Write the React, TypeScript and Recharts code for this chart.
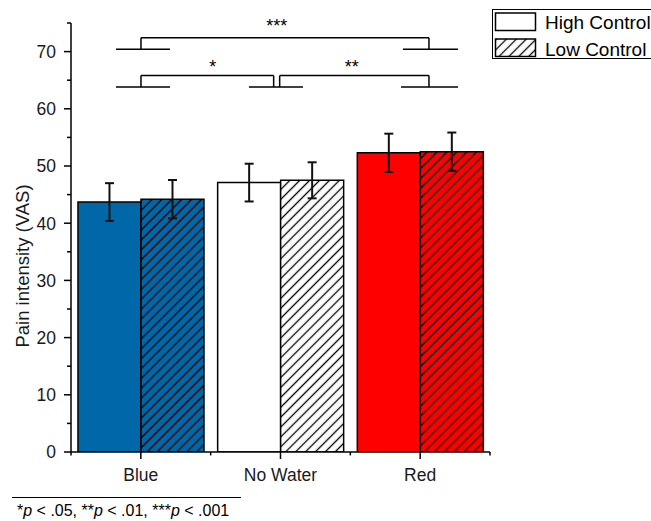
import React from 'react';
import {
  BarChart,
  Bar,
  XAxis,
  YAxis,
  ErrorBar,
  Cell,
  ReferenceLine,
  ReferenceDot,
  Legend,
} from 'recharts';

// ---- data ----
const categories = ['Blue', 'No Water', 'Red'];
const seriesNames = ['High Control', 'Low Control'];
const highControl = [43.7, 47.1, 52.3];
const lowControl = [44.2, 47.5, 52.5];
const highControlErr = [3.3, 3.3, 3.35];
const lowControlErr = [3.35, 3.15, 3.35];
const categoryColors = ['#0068A8', '#FFFFFF', '#FF0000'];
const yTicks = [0, 5, 10, 15, 20, 25, 30, 35, 40, 45, 50, 55, 60, 65, 70, 75];
const categoryBounds = [0, 1, 2, 3];
// helper axis (category units) spanning the three categories
const bracketAxisSpan = [0, 1.5, 3];

// significance brackets (in category units on x, pain units on y)
const brackets = [
  { x1: 0.501, x2: 2.563, y: 72.4, foot: 70.4 },
  { x1: 0.501, x2: 1.451, y: 65.8, foot: 63.8 },
  { x1: 1.494, x2: 2.563, y: 65.8, foot: 63.8 },
];
const bracketFeet = [
  { x1: 0.322, x2: 0.709, y: 70.4 },
  { x1: 2.377, x2: 2.771, y: 70.4 },
  { x1: 0.322, x2: 0.709, y: 63.8 },
  { x1: 1.274, x2: 1.661, y: 63.8 },
  { x1: 2.363, x2: 2.771, y: 63.8 },
];
const stars = [
  { x: 1.474, y: 73.5, text: '***' },
  { x: 1.015, y: 66.2, text: '*' },
  { x: 2.01, y: 66.2, text: '**' },
];

const data = categories.map((c, i) => ({
  category: c,
  high: highControl[i],
  low: lowControl[i],
  highErr: highControlErr[i],
  lowErr: lowControlErr[i],
  span: bracketAxisSpan[i],
}));

const FONT = '"Liberation Sans", Arial, Helvetica, sans-serif';

const YTick = (props: any) => {
  const { x, y, payload } = props;
  const v = payload.value;
  const major = v % 10 === 0;
  return (
    <g>
      <line x1={x - (major ? 7 : 4)} x2={x} y1={y} y2={y} stroke="#000" strokeWidth={1.5} />
      {major && (
        <text x={x - 15} y={y} dy="0.36em" textAnchor="end" fontSize={17.5} fontFamily={FONT} fill="#1a1a1a">
          {v}
        </text>
      )}
    </g>
  );
};

const XTick = (props: any) => {
  const { x, y, payload } = props;
  return (
    <g>
      <line x1={x} x2={x} y1={y} y2={y + 7} stroke="#000" strokeWidth={1.5} />
      <text x={x} y={y + 29} textAnchor="middle" fontSize={17.5} fontFamily={FONT} fill="#1a1a1a">
        {payload.value}
      </text>
    </g>
  );
};

const HatchPattern = ({ id, color }: { id: string; color: string }) => (
  <pattern id={id} patternUnits="userSpaceOnUse" width={7} height={7} patternTransform="rotate(45)">
    <rect width={7} height={7} fill={color} />
    <line x1={3.5} y1={0} x2={3.5} y2={7} stroke="#000" strokeWidth={1.3} />
  </pattern>
);

const LegendContent = (props: any) => {
  const payload = props.payload && props.payload.length ? props.payload : seriesNames.map((n) => ({ value: n }));
  return (
    <svg width={170} height={52} style={{ display: 'block', overflow: 'visible' }}>
      <defs>
        <HatchPattern id="legend-hatch" color="#FFFFFF" />
      </defs>
      <rect x={0.5} y={0.5} width={180} height={49} fill="#fff" stroke="#000" strokeWidth={1} />
      {payload.map((p: any, i: number) => (
        <g key={i}>
          <rect
            x={3.5}
            y={4 + i * 26}
            width={40}
            height={17.5}
            fill={i === 0 ? '#FFFFFF' : 'url(#legend-hatch)'}
            stroke="#000"
            strokeWidth={1.5}
          />
          <text x={53} y={19.5 + i * 27.5} fontSize={19} fontFamily={FONT} fill="#000">
            {p.value}
          </text>
        </g>
      ))}
    </svg>
  );
};

export default function App() {
  return (
    <div style={{ position: 'absolute', left: 0, top: 0, width: 651, height: 521, background: '#fff', fontFamily: FONT }}>
      <BarChart
        width={651}
        height={521}
        data={data}
        margin={{ top: 23, right: 161, bottom: 39, left: 11 }}
        barCategoryGap="5%"
        barGap={0}
      >
        <defs>
          {categoryColors.map((c, i) => (
            <HatchPattern key={i} id={`hatch-${i}`} color={c} />
          ))}
        </defs>
        <XAxis
          xAxisId="cat"
          dataKey="category"
          tick={<XTick />}
          tickSize={0}
          tickMargin={0}
          tickLine={false}
          axisLine={{ stroke: '#000', strokeWidth: 1.5 }}
          height={30}
          interval={0}
        />
        <XAxis
          xAxisId="br"
          dataKey="span"
          type="number"
          domain={[0, 3]}
          orientation="top"
          height={0}
          hide
          allowDataOverflow
        />
        <YAxis
          domain={[0, 75]}
          ticks={yTicks}
          interval={0}
          tick={<YTick />}
          tickSize={0}
          tickMargin={0}
          tickLine={false}
          axisLine={{ stroke: '#000', strokeWidth: 1.5 }}
          width={60}
          allowDataOverflow
        />
        <Legend
          layout="vertical"
          align="center"
          verticalAlign="middle"
          wrapperStyle={{ left: 492, top: 9, width: 170, height: 52, right: 'auto', bottom: 'auto' }}
          content={<LegendContent />}
        />
        <Bar xAxisId="cat" dataKey="high" name={seriesNames[0]} isAnimationActive={false} stroke="#000" strokeWidth={1.5}>
          {data.map((d, i) => (
            <Cell key={d.category} fill={categoryColors[i]} />
          ))}
          <ErrorBar dataKey="highErr" width={4.5} stroke="#111" strokeWidth={2} direction="y" />
        </Bar>
        <Bar xAxisId="cat" dataKey="low" name={seriesNames[1]} isAnimationActive={false} stroke="#000" strokeWidth={1.5}>
          {data.map((d, i) => (
            <Cell key={d.category} fill={`url(#hatch-${i})`} />
          ))}
          <ErrorBar dataKey="lowErr" width={4.5} stroke="#111" strokeWidth={2} direction="y" />
        </Bar>
        {categoryBounds.map((b) => (
          <ReferenceLine
            key={`mt-${b}`}
            xAxisId="br"
            segment={[{ x: b, y: 0 }, { x: b, y: -0.6 }]}
            stroke="#000"
            strokeWidth={1.5}
            ifOverflow="visible"
          />
        ))}
        {brackets.map((b, i) => (
          <ReferenceLine
            key={`bh-${i}`}
            xAxisId="br"
            segment={[{ x: b.x1, y: b.y }, { x: b.x2, y: b.y }]}
            stroke="#000"
            strokeWidth={1.5}
            ifOverflow="visible"
          />
        ))}
        {brackets.map((b, i) => (
          <ReferenceLine
            key={`bl-${i}`}
            xAxisId="br"
            segment={[{ x: b.x1, y: b.y }, { x: b.x1, y: b.foot }]}
            stroke="#000"
            strokeWidth={1.5}
            ifOverflow="visible"
          />
        ))}
        {brackets.map((b, i) => (
          <ReferenceLine
            key={`br-${i}`}
            xAxisId="br"
            segment={[{ x: b.x2, y: b.y }, { x: b.x2, y: b.foot }]}
            stroke="#000"
            strokeWidth={1.5}
            ifOverflow="visible"
          />
        ))}
        {bracketFeet.map((f, i) => (
          <ReferenceLine
            key={`bf-${i}`}
            xAxisId="br"
            segment={[{ x: f.x1, y: f.y }, { x: f.x2, y: f.y }]}
            stroke="#000"
            strokeWidth={1.5}
            ifOverflow="visible"
          />
        ))}
        {stars.map((s, i) => (
          <ReferenceDot
            key={`st-${i}`}
            xAxisId="br"
            x={s.x}
            y={s.y}
            r={0}
            ifOverflow="visible"
            shape={(p: any) => (
              <text x={p.cx} y={p.cy} textAnchor="middle" fontSize={18} fontFamily={FONT} fill="#000">
                {s.text}
              </text>
            )}
          />
        ))}
      </BarChart>
      <svg
        width={651}
        height={521}
        style={{ position: 'absolute', left: 0, top: 0, pointerEvents: 'none' }}
      >
        <text
          transform="translate(29,266) rotate(-90)"
          textAnchor="middle"
          fontSize={18.5}
          fontFamily={FONT}
          fill="#1a1a1a"
        >
          Pain intensity (VAS)
        </text>
        <line x1={12} x2={241} y1={497.5} y2={497.5} stroke="#000" strokeWidth={1} />
        <text x={17} y={516} fontSize={16} fontFamily={FONT} fill="#000">
          *<tspan fontStyle="italic">p</tspan> &lt; .05, **<tspan fontStyle="italic">p</tspan> &lt; .01, ***
          <tspan fontStyle="italic">p</tspan> &lt; .001
        </text>
      </svg>
    </div>
  );
}
